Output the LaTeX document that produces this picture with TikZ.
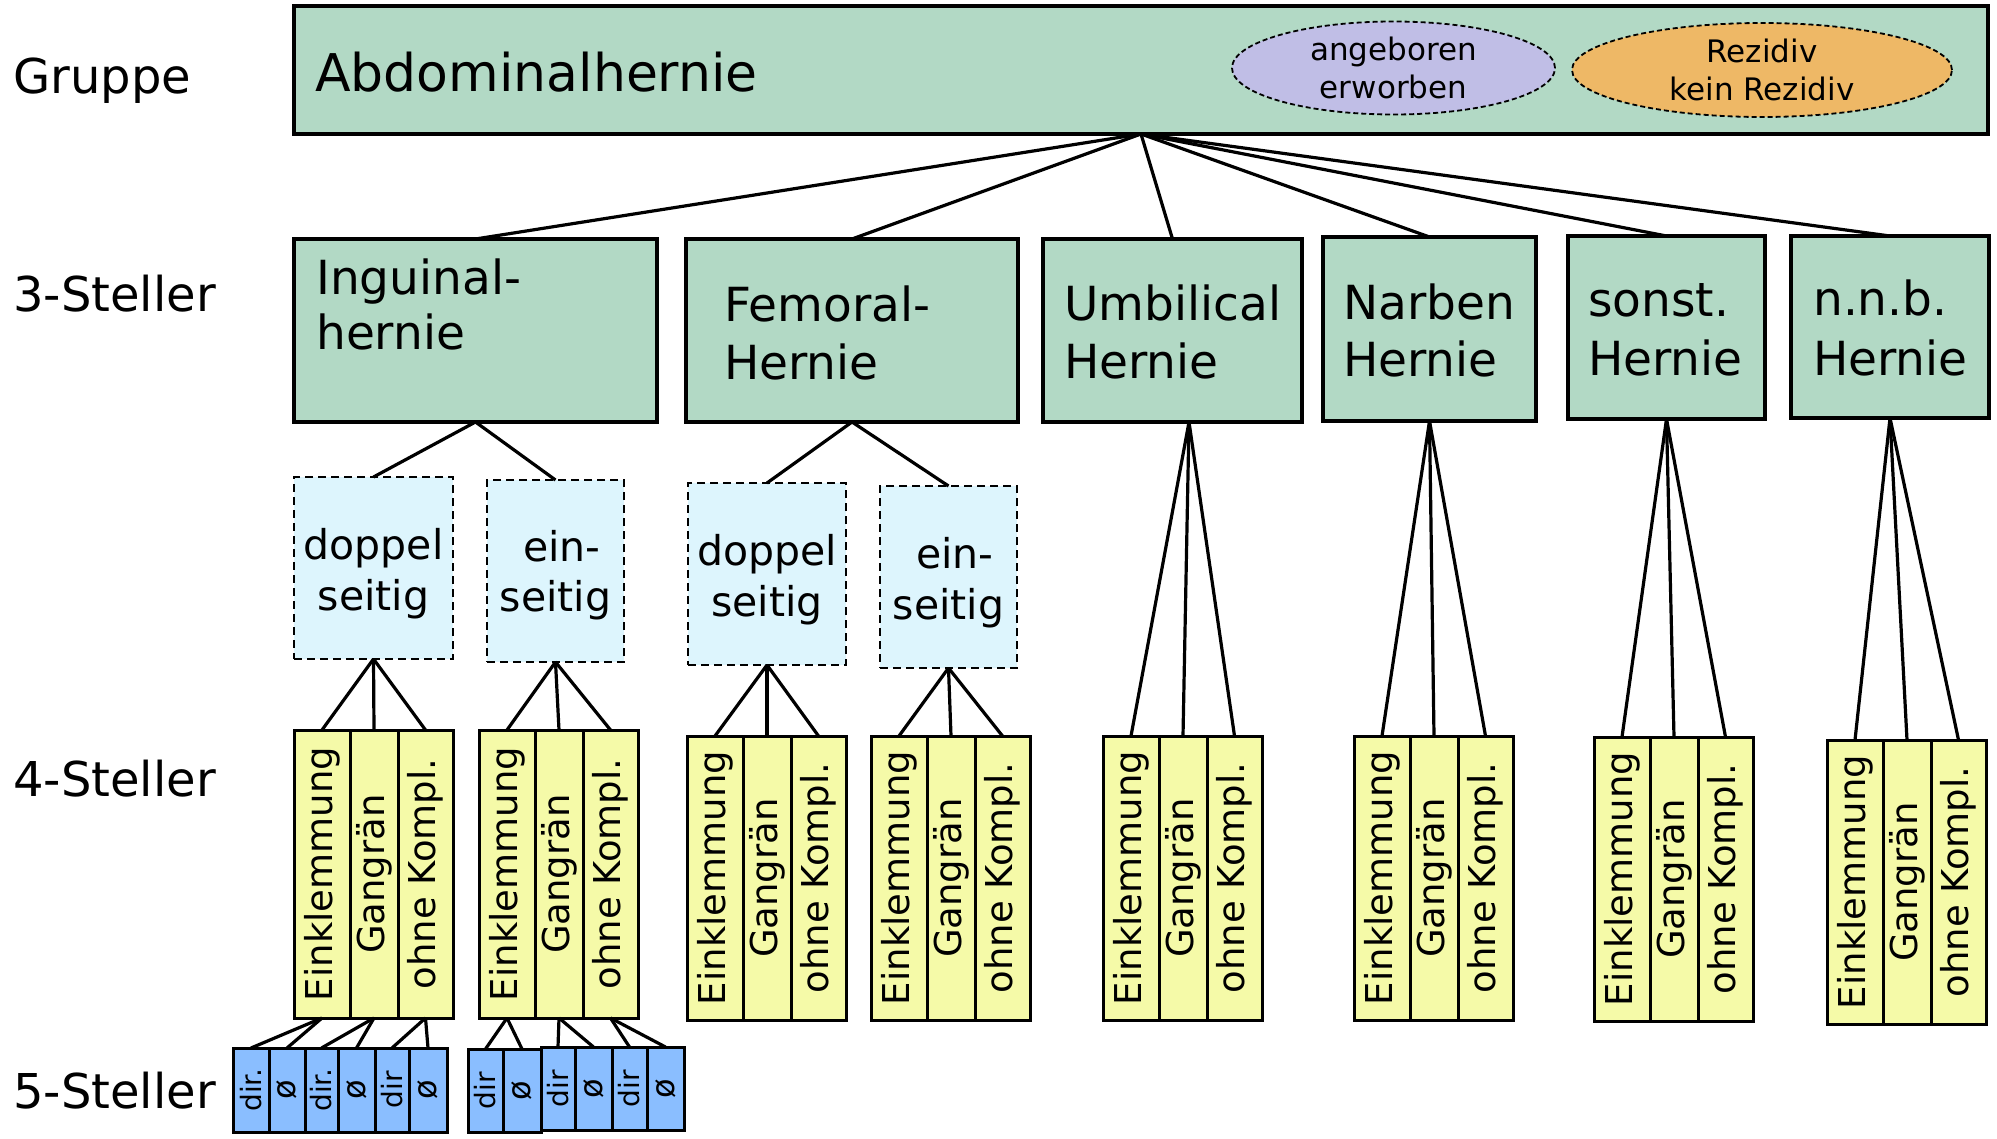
\documentclass[tikz,border=0pt]{standalone}
\usepackage{fontspec}
\setmainfont{DejaVu Sans}
\usepackage{graphicx}
\usetikzlibrary{shapes.geometric}
\definecolor{grn}{HTML}{B2D9C5}
\definecolor{lav}{HTML}{C0BEE6}
\definecolor{org}{HTML}{EEB866}
\definecolor{lblue}{HTML}{DDF5FD}
\definecolor{ylw}{HTML}{F5FAA8}
\definecolor{blu}{HTML}{8ABEFF}
\tikzset{
  conn/.style={line width=3.2pt},
  topbox/.style={draw, fill=grn, line width=4.5pt, rectangle, anchor=north west, inner sep=0pt, outer sep=0pt},
  greenbox/.style={draw, fill=grn, line width=4.2pt, rectangle, anchor=north west, inner sep=0pt, outer sep=0pt},
  dashbox/.style={draw, fill=lblue, line width=1.8pt, dash pattern=on 8pt off 5pt, rectangle, anchor=north west, inner sep=0pt, outer sep=0pt},
  ybox/.style={draw, fill=ylw, line width=3pt, rectangle, anchor=north west, inner sep=0pt, outer sep=0pt, font=\fontsize{37}{44}\selectfont},
  bbox/.style={draw, fill=blu, line width=3pt, rectangle, anchor=north west, inner sep=0pt, outer sep=0pt, font=\fontsize{28}{32}\selectfont},
  oval/.style={draw, ellipse, line width=1.8pt, dash pattern=on 5pt off 3pt, inner sep=0pt, align=center, font=\fontsize{31}{38}\selectfont},
  side/.style={anchor=base west, inner sep=0pt, font=\fontsize{48}{56}\selectfont},
  gtext/.style={anchor=base west, inner sep=0pt, font=\fontsize{47}{56}\selectfont},
  dtext/.style={anchor=base, inner sep=0pt, font=\fontsize{41}{50}\selectfont},
}
\newcommand\ygroup[4]{%
  \node[ybox,minimum width=56,minimum height=#4] (#1a) at (#2,#3) {\rotatebox{90}{Einklemmung}};
  \node[ybox,minimum width=48,minimum height=#4] (#1b) at (#1a.north east) {\rotatebox{90}{Gangrän}};
  \node[ybox,minimum width=55,minimum height=#4] (#1c) at (#1b.north east) {\rotatebox{90}{ohne Kompl.}};
}
\newcommand\myslashO{\rotatebox{90}{\fontsize{32}{32}\selectfont ø}}
\begin{document}
\begin{tikzpicture}[x=1pt,y=-1pt]
\useasboundingbox (0,0) rectangle (1997,1139);

% side labels
\node[side] (lg) at (13,94) {Gruppe};
\node[side] (l3) at (13,312) {3-Steller};
\node[side] (l4) at (13,796) {4-Steller};
\node[side] (l5) at (13,1108) {5-Steller};

% top box
\node[topbox, minimum width=1694, minimum height=128] (top) at (294,6) {};
\node[anchor=base west, inner sep=0pt, font=\fontsize{52}{60}\selectfont] (abd) at (315,92) {Abdominalhernie};
\node[oval, fill=lav, minimum width=323, minimum height=93] (ang) at (1393.5,68) {angeboren\\erworben};
\node[oval, fill=org, minimum width=380, minimum height=94] (rez) at (1762,70) {Rezidiv\\kein Rezidiv};

% 3-Steller
\node[greenbox, minimum width=363, minimum height=183] (ing) at (294,239) {};
\node[greenbox, minimum width=332, minimum height=183] (fem) at (686,239) {};
\node[greenbox, minimum width=259, minimum height=183] (umb) at (1043,239) {};
\node[greenbox, minimum width=213, minimum height=184] (nar) at (1323,237) {};
\node[greenbox, minimum width=197, minimum height=183] (son) at (1568,236) {};
\node[greenbox, minimum width=198, minimum height=182] (nnb) at (1791,236) {};

\node[gtext] (ing1) at (316,295) {Inguinal-};
\node[gtext] (ing2) at (316,350) {hernie};
\node[gtext] (fem1) at (724,322) {Femoral-};
\node[gtext] (fem2) at (724,380) {Hernie};
\node[gtext] (umb1) at (1064,321) {Umbilical};
\node[gtext] (umb2) at (1064,379) {Hernie};
\node[gtext] (nar1) at (1343,320) {Narben};
\node[gtext] (nar2) at (1343,377) {Hernie};
\node[gtext] (son1) at (1588,317) {sonst.};
\node[gtext] (son2) at (1588,376) {Hernie};
\node[gtext] (nnb1) at (1813,316) {n.n.b.};
\node[gtext] (nnb2) at (1813,376) {Hernie};

\foreach \n in {ing,fem,umb,nar,son,nnb} \draw[conn] (top.south) -- (\n.north);

% dashed side boxes
\node[dashbox, minimum width=159, minimum height=182] (ID) at (294,477) {};
\node[dashbox, minimum width=137, minimum height=182] (IE) at (487,480) {};
\node[dashbox, minimum width=158, minimum height=182] (FD) at (688,483) {};
\node[dashbox, minimum width=137, minimum height=182] (FE) at (880,486) {};

\node[dtext] (ID1) at (373.5,559) {doppel};
\node[dtext] (ID2) at (373.5,610) {seitig};
\node[dtext] (IE1) at (562,561) {ein-};
\node[dtext] (IE2) at (555.5,611) {seitig};
\node[dtext] (FD1) at (767,565) {doppel};
\node[dtext] (FD2) at (767,616) {seitig};
\node[dtext] (FE1) at (955,568) {ein-};
\node[dtext] (FE2) at (948.5,619) {seitig};

\draw[conn] (ing.south) -- (ID.north);
\draw[conn] (ing.south) -- (IE.north);
\draw[conn] (fem.south) -- (FD.north);
\draw[conn] (fem.south) -- (FE.north);

% 4-Steller
\ygroup{yID}{294}{730}{288}
\ygroup{yIE}{479}{730}{288}
\ygroup{yFD}{687}{736}{284}
\ygroup{yFE}{871}{736}{284}
\ygroup{yU}{1103}{736}{284}
\ygroup{yN}{1354}{736}{284}
\ygroup{yS}{1594}{737}{284}
\ygroup{yB}{1827}{740}{284}

\coordinate (umbB) at (1189,422);
\foreach \s in {a,b,c} {
  \draw[conn] (ID.south) -- (yID\s.north);
  \draw[conn] (IE.south) -- (yIE\s.north);
  \draw[conn] (FD.south) -- (yFD\s.north);
  \draw[conn] (FE.south) -- (yFE\s.north);
  \draw[conn] (umbB) -- (yU\s.north);
  \draw[conn] (nar.south) -- (yN\s.north);
  \draw[conn] (son.south) -- (yS\s.north);
  \draw[conn] (nnb.south) -- (yB\s.north);
}

% 5-Steller
\node[bbox, minimum width=36, minimum height=84] (b1) at (233,1048) {\rotatebox{90}{dir.}};
\node[bbox, minimum width=36, minimum height=84] (b2) at (269,1048) {\myslashO};
\node[bbox, minimum width=33, minimum height=84] (b3) at (305,1048) {\rotatebox{90}{dir.}};
\node[bbox, minimum width=37, minimum height=84] (b4) at (338,1048) {\myslashO};
\node[bbox, minimum width=34, minimum height=84] (b5) at (375,1048) {\rotatebox{90}{dir}};
\node[bbox, minimum width=38, minimum height=84] (b6) at (409,1048) {\myslashO};

\node[bbox, minimum width=35, minimum height=83] (b7) at (468,1049) {\rotatebox{90}{dir}};
\node[bbox, minimum width=38, minimum height=83] (b8) at (503,1049) {\myslashO};
\node[bbox, minimum width=34, minimum height=83] (b9) at (541,1047) {\rotatebox{90}{dir}};
\node[bbox, minimum width=37, minimum height=83] (b10) at (575,1047) {\myslashO};
\node[bbox, minimum width=35, minimum height=83] (b11) at (612,1047) {\rotatebox{90}{dir}};
\node[bbox, minimum width=37, minimum height=83] (b12) at (647,1047) {\myslashO};

\draw[conn] (yIDa.south) -- (b1.north);
\draw[conn] (yIDa.south) -- (b2.north);
\draw[conn] (yIDb.south) -- (b3.north);
\draw[conn] (yIDb.south) -- (b4.north);
\draw[conn] (yIDc.south) -- (b5.north);
\draw[conn] (yIDc.south) -- (b6.north);
\draw[conn] (yIEa.south) -- (b7.north);
\draw[conn] (yIEa.south) -- (b8.north);
\draw[conn] (yIEb.south) -- (b9.north);
\draw[conn] (yIEb.south) -- (b10.north);
\draw[conn] (yIEc.south) -- (b11.north);
\draw[conn] (yIEc.south) -- (b12.north);
\end{tikzpicture}
\end{document}
